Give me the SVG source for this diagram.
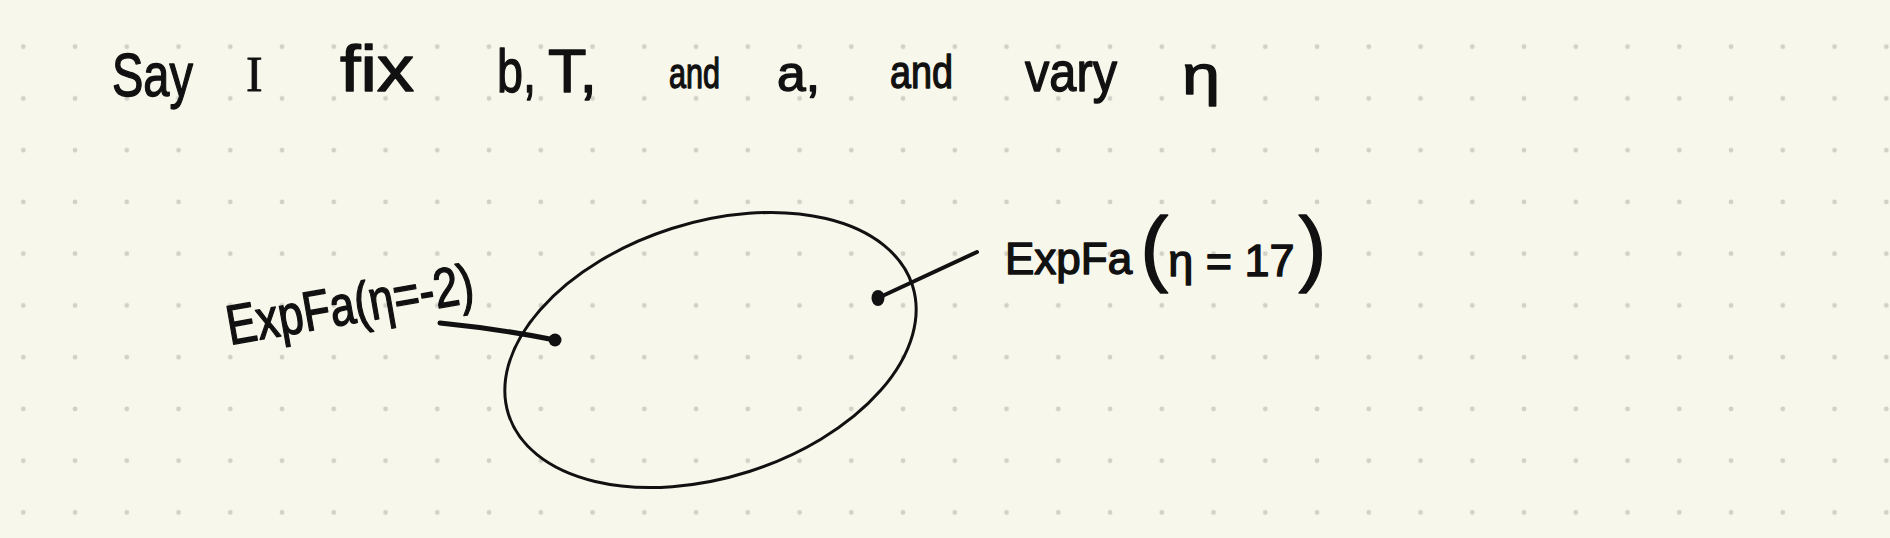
<svg xmlns="http://www.w3.org/2000/svg" width="1890" height="538" viewBox="0 0 1890 538">
<defs>
<style>
.hw{font-family:"Liberation Sans","DejaVu Sans",sans-serif;fill:#111;stroke:#111;stroke-width:1.4;stroke-linejoin:round}
.conn{fill:none;stroke:#111;stroke-linecap:round}
</style>
<pattern id="dots" patternUnits="userSpaceOnUse" x="-2.575" y="20.825" width="51.75" height="51.75">
<circle cx="25.875" cy="25.875" r="2.4" fill="#d2d1c8"/>
</pattern>
</defs>
<rect width="1890" height="538" fill="#f8f7eb"/>
<rect width="1890" height="538" fill="url(#dots)"/>
<g id="title" class="hw" font-size="62">
<text x="112" y="96" textLength="81" lengthAdjust="spacingAndGlyphs">Say</text>
<text x="246" y="91" font-family="Liberation Serif, serif" font-size="50" stroke-width="0.8">I</text>
<text x="340" y="91" font-size="64" textLength="74" lengthAdjust="spacingAndGlyphs">fix</text>
<text x="497" y="92" textLength="39" lengthAdjust="spacingAndGlyphs">b,</text>
<text x="548" y="92" textLength="49" lengthAdjust="spacingAndGlyphs">T,</text>
<text x="669" y="88" font-size="42" textLength="51" lengthAdjust="spacingAndGlyphs">and</text>
<text x="777" y="91" font-size="50" textLength="43" lengthAdjust="spacingAndGlyphs">a,</text>
<text x="890" y="88" font-size="46" textLength="63" lengthAdjust="spacingAndGlyphs">and</text>
<text x="1025" y="91" font-size="56" textLength="92" lengthAdjust="spacingAndGlyphs">vary</text>
<text x="1182" y="94" font-size="56" textLength="38" lengthAdjust="spacingAndGlyphs">η</text>
</g>
<g id="set">
<ellipse cx="710.5" cy="350" rx="212" ry="127.5" transform="rotate(-17.7 710.5 350)" fill="none" stroke="#111" stroke-width="3"/>
</g>
<g id="label-left" class="hw">
<text x="230" y="345" font-size="56" textLength="250" lengthAdjust="spacingAndGlyphs" transform="rotate(-10 230 345)">ExpFa(η=-2)</text>
</g>
<g id="label-right" class="hw">
<text x="1005" y="274" font-size="44">ExpFa<tspan font-size="84" dx="8" dy="2">(</tspan><tspan font-size="45">η = 17</tspan><tspan font-size="84" dx="4">)</tspan></text>
</g>
<g id="connectors">
<path class="conn" d="M440,323 Q500,329 555,340" stroke-width="5"/>
<circle cx="555" cy="340" r="6.5" fill="#111"/>
<path class="conn" d="M878,298 L977,252" stroke-width="4"/>
<ellipse cx="878" cy="298" rx="6.5" ry="8" fill="#111"/>
</g>
</svg>
